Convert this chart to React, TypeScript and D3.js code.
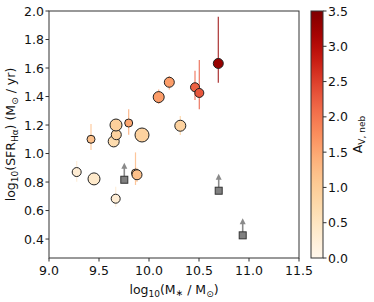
import React from "react";
import * as d3 from "d3";

// detections
const logMass = [9.277, 9.45, 9.42, 9.667, 9.647, 9.673, 9.67, 9.797, 9.93, 9.865, 9.88, 10.097, 10.203, 10.313, 10.46, 10.503, 10.693];
const logSfr = [0.87, 0.822, 1.1, 0.683, 1.085, 1.132, 1.2, 1.214, 1.13, 0.863, 0.851, 1.396, 1.5, 1.195, 1.465, 1.425, 1.632];
const sfrErrHi = [0.077, 0, 0.107, 0.084, 0, 0, 0, 0.096, 0, 0.145, 0.05, 0.054, 0.044, 0.068, 0.116, 0.231, 0.328];
const sfrErrLo = [0.068, 0, 0.075, 0.056, 0, 0, 0, 0.082, 0, 0.084, 0.05, 0.049, 0.05, 0.065, 0.09, 0.115, 0.135];
const avNeb = [0.3, 0.4, 1.2, 0.3, 0.7, 0.9, 0.95, 1.5, 0.9, 1.3, 1.2, 1.6, 1.6, 0.9, 2.2, 2.3, 3.3];
const weight = [4.5, 6, 4, 4.5, 5.5, 5, 6, 4, 7, 4, 5, 5.5, 5, 5.5, 4.5, 4.5, 5];

// lower limits
const limMass = [9.753, 10.697, 10.937];
const limSfr = [0.816, 0.739, 0.426];

const xTicks = [9.0, 9.5, 10.0, 10.5, 11.0, 11.5];
const yTicks = [0.4, 0.6, 0.8, 1.0, 1.2, 1.4, 1.6, 1.8, 2.0];
const cbTicks = [0, 0.5, 1, 1.5, 2, 2.5, 3, 3.5];

const W = 374, H = 302;
const L = 49, R = 299, T = 11, B = 258;
const font = "DejaVu Sans, sans-serif";

export default function App() {
  const x = d3.scaleLinear().domain([9.0, 11.5]).range([L, R]);
  const y = d3.scaleLinear().domain([0.267, 2.0]).range([B, T]);
  const color = (v: number) => d3.interpolateOrRd(v / 3.5);
  const cb = d3.scaleLinear().domain([0, 3.5]).range([B, T]);
  const cbX = 311, cbW = 12;

  const pts = logMass.map((m, i) => ({ i, m, s: logSfr[i], hi: sfrErrHi[i], lo: sfrErrLo[i], av: avNeb[i], r: weight[i] }));
  const stops = d3.range(0, 1.0001, 0.05);

  return (
    <svg width={W} height={H} style={{ position: "absolute", left: 0, top: 0 }} fontFamily={font}>
      <defs>
        <linearGradient id="orrd" x1="0" y1="1" x2="0" y2="0">
          {stops.map((t) => (
            <stop key={t} offset={t} stopColor={d3.interpolateOrRd(t)} />
          ))}
        </linearGradient>
      </defs>
      <rect width={W} height={H} fill="white" />

      {/* error bars */}
      {pts.map((p) =>
        p.hi + p.lo > 0 ? (
          <line key={"e" + p.i} x1={x(p.m)} x2={x(p.m)} y1={y(p.s + p.hi)} y2={y(p.s - p.lo)}
            stroke={color(p.av)} strokeWidth={1.2} opacity={0.8} />
        ) : null
      )}

      {/* lower limits */}
      {limMass.map((m, i) => {
        const cx = x(m), cy = y(limSfr[i]);
        return (
          <g key={"l" + i}>
            <line x1={cx} x2={cx} y1={cy - 3} y2={cy - 12} stroke="#8a8a8a" strokeWidth={1.6} />
            <path d={`M${cx - 3},${cy - 11} L${cx + 3},${cy - 11} L${cx},${cy - 17} Z`} fill="#8a8a8a" />
            <rect x={cx - 3.5} y={cy - 3.5} width={7} height={7} fill="#808080" stroke="#333" strokeWidth={1} />
          </g>
        );
      })}

      {/* points */}
      {pts.map((p) => (
        <circle key={"p" + p.i} cx={x(p.m)} cy={y(p.s)} r={p.r} fill={color(p.av)} stroke="#222" strokeWidth={1} />
      ))}

      {/* frame */}
      <rect x={L} y={T} width={R - L} height={B - T} fill="none" stroke="#333" strokeWidth={1} />

      {xTicks.map((t) => (
        <g key={"x" + t}>
          <line x1={x(t)} x2={x(t)} y1={B} y2={B + 3.5} stroke="#333" />
          <text x={x(t)} y={B + 17} fontSize={12.5} textAnchor="middle" fill="#111">{t.toFixed(1)}</text>
        </g>
      ))}
      {yTicks.map((t) => (
        <g key={"y" + t}>
          <line x1={L - 3.5} x2={L} y1={y(t)} y2={y(t)} stroke="#333" />
          <text x={L - 5} y={y(t) + 4.5} fontSize={12.5} textAnchor="end" fill="#111">{t.toFixed(1)}</text>
        </g>
      ))}

      <text x={(L + R) / 2} y={294} fontSize={12.5} textAnchor="middle" fill="#111">
        log<tspan fontSize={9} dy={3}>10</tspan><tspan dy={-3}>(M</tspan><tspan fontSize={9} dy={2}>∗</tspan><tspan dy={-2}> / M</tspan><tspan fontSize={9} dy={3}>⊙</tspan><tspan dy={-3}>)</tspan>
      </text>
      <text transform={`translate(15,${(T + B) / 2}) rotate(-90)`} fontSize={12.5} textAnchor="middle" fill="#111">
        log<tspan fontSize={9} dy={3}>10</tspan><tspan dy={-3}>(SFR</tspan><tspan fontSize={9} dy={3}>Hα</tspan><tspan dy={-3}>) (M</tspan><tspan fontSize={9} dy={3}>⊙</tspan><tspan dy={-3}> / yr)</tspan>
      </text>

      {/* colorbar */}
      <rect x={cbX} y={T} width={cbW} height={B - T} fill="url(#orrd)" stroke="#333" strokeWidth={1} />
      {cbTicks.map((t) => (
        <g key={"c" + t}>
          <line x1={cbX + cbW} x2={cbX + cbW + 3.5} y1={cb(t)} y2={cb(t)} stroke="#333" />
          <text x={cbX + cbW + 5} y={cb(t) + 4.5} fontSize={12.5} fill="#111">{t.toFixed(1)}</text>
        </g>
      ))}
      <text transform={`translate(362,${(T + B) / 2}) rotate(-90)`} fontSize={12.5} textAnchor="middle" fill="#111">
        A<tspan fontSize={9} dy={3}>V, neb</tspan>
      </text>
    </svg>
  );
}
